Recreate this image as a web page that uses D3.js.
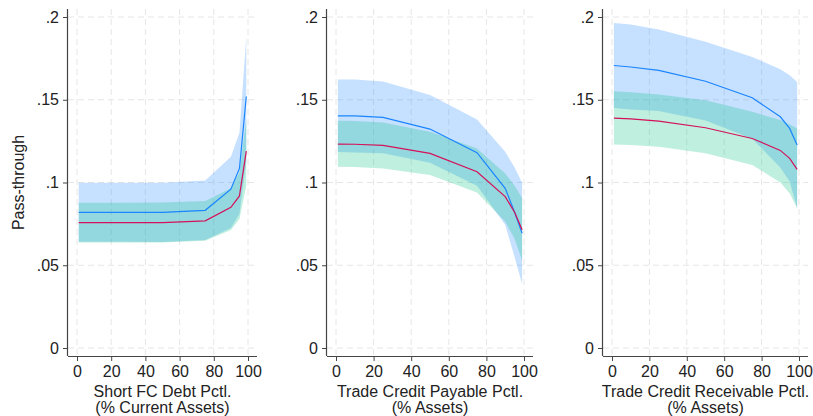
<!DOCTYPE html>
<html lang="en">

<head>
	<meta charset="utf-8">
	<script src="https://d3js.org/d3.v7.min.js"></script>
	<title>Pass-through by percentile</title>
	<style>
		body { margin: 0; background: #fff; }
		text { font-family: "Liberation Sans", Arial, sans-serif; fill: #222; }
	</style>
</head>

<body>
	<script type="text/javascript">
		// percentiles at which the pass-through was evaluated
		var pctl = [1, 10, 25, 50, 75, 90, 95, 99];

		var xTicks = [0, 20, 40, 60, 80, 100];
		var yTicks = [0, 0.05, 0.1, 0.15, 0.2];
		var yTickLabels = ["0", ".05", ".1", ".15", ".2"];

		// panel 1: short FC debt
		var debtBlue   = [0.082, 0.082, 0.082, 0.082, 0.0832, 0.096, 0.1085, 0.152];
		var debtBlueHi = [0.0998, 0.0998, 0.0998, 0.0999, 0.1012, 0.1156, 0.130, 0.188];
		var debtBlueLo = [0.0642, 0.0642, 0.0642, 0.0641, 0.0652, 0.0725, 0.081, 0.113];
		var debtRed    = [0.0758, 0.0758, 0.0758, 0.0758, 0.0768, 0.085, 0.0919, 0.119];
		var debtRedHi  = [0.0878, 0.0878, 0.0878, 0.0879, 0.0888, 0.0965, 0.106, 0.138];
		var debtRedLo  = [0.0638, 0.0638, 0.0638, 0.0638, 0.0648, 0.0713, 0.078, 0.098];

		// panel 2: trade credit payable
		var payBlue   = [0.1403, 0.1402, 0.1393, 0.1323, 0.118, 0.0965, 0.082, 0.0693];
		var payBlueHi = [0.1622, 0.1622, 0.161, 0.1528, 0.138, 0.1186, 0.109, 0.0999];
		var payBlueLo = [0.1184, 0.1182, 0.1176, 0.112, 0.098, 0.0744, 0.055, 0.0387];
		var payRed    = [0.1232, 0.1231, 0.1224, 0.1176, 0.1065, 0.0915, 0.082, 0.0714];
		var payRedHi  = [0.1373, 0.1372, 0.1363, 0.1307, 0.1206, 0.1055, 0.098, 0.0905];
		var payRedLo  = [0.1095, 0.1094, 0.1085, 0.1045, 0.0939, 0.0764, 0.066, 0.0529];

		// panel 3: trade credit receivable
		var recBlue   = [0.1707, 0.1698, 0.1678, 0.1612, 0.1512, 0.1397, 0.1327, 0.1226];
		var recBlueHi = [0.1964, 0.1955, 0.1924, 0.185, 0.1759, 0.1684, 0.1648, 0.1608];
		var recBlueLo = [0.145, 0.1441, 0.1432, 0.1374, 0.1265, 0.109, 0.1006, 0.0846];
		var recRed    = [0.1389, 0.1384, 0.1371, 0.1331, 0.1266, 0.1194, 0.1146, 0.1079];
		var recRedHi  = [0.1552, 0.1545, 0.1532, 0.1497, 0.1427, 0.1377, 0.135, 0.1327];
		var recRedLo  = [0.123, 0.1226, 0.1216, 0.1176, 0.1106, 0.1000, 0.0935, 0.0844];

		var titles = [
			["Short FC Debt Pctl.", "(% Current Assets)"],
			["Trade Credit Payable Pctl.", "(% Assets)"],
			["Trade Credit Receivable Pctl.", "(% Assets)"]
		];

		var width = 813;
		var height = 416;

		var blue = "#1a85ff";
		var red = "#d41159";
		var green = "#00bf7f";

		var panels = [
			{ left: 68, right: 257, series: [debtBlue, debtBlueLo, debtBlueHi, debtRed, debtRedLo, debtRedHi], title: titles[0] },
			{ left: 327, right: 533, series: [payBlue, payBlueLo, payBlueHi, payRed, payRedLo, payRedHi], title: titles[1] },
			{ left: 603, right: 808, series: [recBlue, recBlueLo, recBlueHi, recRed, recRedLo, recRedHi], title: titles[2] }
		];

		var plotTop = 9, plotBottom = 356;

		var y = d3.scaleLinear().domain([0, 0.2]).range([348, 17]);

		var svg = d3.select("body")
			.append("svg")
			.attr("width", width)
			.attr("height", height);

		panels.forEach(function(p) {
			var x = d3.scaleLinear().domain([0, 100]).range([p.left + 9, p.right - 9]);
			var g = svg.append("g");

			// dashed grid
			g.selectAll(".hgrid")
				.data(yTicks)
				.enter()
				.append("line")
				.attr("x1", p.left).attr("x2", p.right)
				.attr("y1", function(d) { return y(d); })
				.attr("y2", function(d) { return y(d); })
				.style("stroke", "#e6e6e6")
				.style("stroke-dasharray", "6,4");

			g.selectAll(".vgrid")
				.data(xTicks)
				.enter()
				.append("line")
				.attr("x1", function(d) { return x(d); })
				.attr("x2", function(d) { return x(d); })
				.attr("y1", plotTop).attr("y2", plotBottom)
				.style("stroke", "#e6e6e6")
				.style("stroke-dasharray", "6,4");

			var rows = pctl.map(function(v, i) {
				return { x: v, b: p.series[0][i], bLo: p.series[1][i], bHi: p.series[2][i],
					r: p.series[3][i], rLo: p.series[4][i], rHi: p.series[5][i] };
			});

			var areaBlue = d3.area()
				.x(function(d) { return x(d.x); })
				.y0(function(d) { return y(d.bLo); })
				.y1(function(d) { return y(d.bHi); });

			var areaRed = d3.area()
				.x(function(d) { return x(d.x); })
				.y0(function(d) { return y(d.rLo); })
				.y1(function(d) { return y(d.rHi); });

			g.append("path").datum(rows)
				.attr("d", areaBlue)
				.style("fill", blue).style("fill-opacity", 0.25);

			g.append("path").datum(rows)
				.attr("d", areaRed)
				.style("fill", green).style("fill-opacity", 0.25);

			var lineBlue = d3.line()
				.x(function(d) { return x(d.x); })
				.y(function(d) { return y(d.b); });

			var lineRed = d3.line()
				.x(function(d) { return x(d.x); })
				.y(function(d) { return y(d.r); });

			g.append("path").datum(rows)
				.attr("d", lineBlue)
				.style("fill", "none").style("stroke", blue).style("stroke-width", 1.2);

			g.append("path").datum(rows)
				.attr("d", lineRed)
				.style("fill", "none").style("stroke", red).style("stroke-width", 1.2);

			// axes
			var xAxis = d3.axisBottom(x).tickValues(xTicks).tickSize(5).tickPadding(5);
			var yAxis = d3.axisLeft(y).tickValues(yTicks).tickSize(5).tickPadding(4)
				.tickFormat(function(d, i) { return yTickLabels[i]; });

			var gx = g.append("g")
				.attr("transform", "translate(0," + plotBottom + ")")
				.call(xAxis);
			gx.select(".domain").attr("d", "M" + p.left + ",0.5H" + p.right);

			var gy = g.append("g")
				.attr("transform", "translate(" + p.left + ",0)")
				.call(yAxis);
			gy.select(".domain").attr("d", "M-0.5," + plotTop + "V" + plotBottom);

			[gx, gy].forEach(function(a) {
				a.selectAll(".domain").style("stroke", "#444").style("stroke-width", 1.2);
				a.selectAll(".tick line").style("stroke", "#444");
				a.selectAll("text")
					.style("font-size", "16px")
					.style("font-family", "'Liberation Sans', Arial, sans-serif")
					.style("fill", "#222");
			});

			// axis title, two lines
			var cx = (p.left + p.right) / 2;
			g.append("text")
				.attr("x", cx).attr("y", 397)
				.attr("text-anchor", "middle")
				.style("font-size", "16px")
				.text(p.title[0]);
			g.append("text")
				.attr("x", cx).attr("y", 413)
				.attr("text-anchor", "middle")
				.style("font-size", "16px")
				.text(p.title[1]);
		});

		svg.append("text")
			.attr("transform", "translate(24," + y(0.1) + ") rotate(-90)")
			.attr("text-anchor", "middle")
			.style("font-size", "16px")
			.text("Pass-through");
	</script>

</body>

</html>
